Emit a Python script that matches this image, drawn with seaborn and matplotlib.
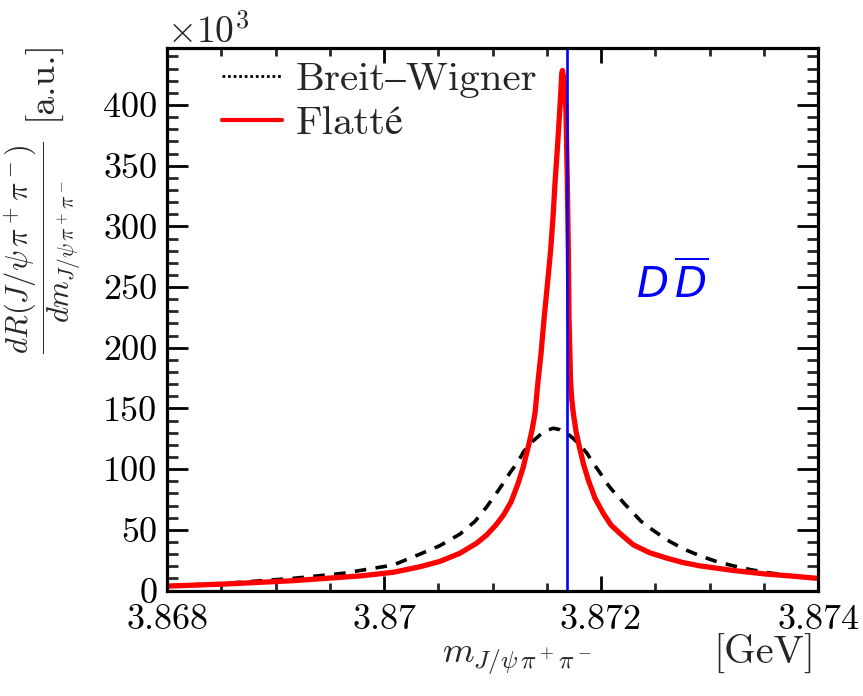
import numpy as np
import pandas as pd
import matplotlib
matplotlib.use("Agg")
import matplotlib.pyplot as plt
from matplotlib.lines import Line2D
from matplotlib.ticker import MultipleLocator
import seaborn as sns

# ---- data (y in units of 10^3, a.u.) ----
flatte_x = [3.868000, 3.868550, 3.869164, 3.869779, 3.870086, 3.870332, 3.870516,
            3.870700, 3.870854, 3.870947, 3.871032, 3.871100, 3.871171, 3.871235,
            3.871281, 3.871330, 3.871364, 3.871392, 3.871419, 3.871447, 3.871477,
            3.871507, 3.871536, 3.871558, 3.871576, 3.871597, 3.871616, 3.871629,
            3.871638, 3.871645, 3.871659, 3.871677, 3.871689, 3.871699, 3.871705,
            3.871719, 3.871730, 3.871745, 3.871770, 3.871800, 3.871839, 3.871883,
            3.871945, 3.872021, 3.872092, 3.872175, 3.872298, 3.872452, 3.872606,
            3.872756, 3.872912, 3.873219, 3.873527, 3.873742, 3.873972, 3.874000]
flatte_y = [3.6, 5.4, 8.1, 12.0, 15.0, 19.6, 24.0,
            30.7, 39.0, 45.8, 54.0, 62.0, 73.0, 88.0,
            101.0, 118.5, 132.0, 146.0, 172.0, 195.0, 225.7,
            253.0, 280.6, 308.0, 335.6, 363.0, 390.0, 410.0,
            426.0, 428.5, 420.0, 395.0, 340.0, 280.0, 226.0,
            173.0, 158.0, 146.0, 131.0, 118.5, 104.0, 91.0,
            76.0, 63.6, 54.0, 47.0, 37.6, 31.0, 26.7,
            23.0, 20.3, 16.5, 13.5, 12.0, 10.2, 10.0]

bw_x = [3.868000, 3.868550, 3.869164, 3.869625, 3.870086, 3.870332, 3.870516,
        3.870700, 3.870839, 3.870947, 3.871023, 3.871100, 3.871161, 3.871238,
        3.871284, 3.871346, 3.871438, 3.871502, 3.871560, 3.871622, 3.871684,
        3.871742, 3.871806, 3.871871, 3.871929, 3.871991, 3.872053, 3.872101,
        3.872159, 3.872221, 3.872298, 3.872369, 3.872452, 3.872606, 3.872759,
        3.872912, 3.873060, 3.873219, 3.873373, 3.873527, 3.873742, 3.873972,
        3.874000]
bw_y = [3.8, 5.9, 10.0, 14.2, 21.0, 30.0, 37.0,
        46.5, 57.0, 69.0, 78.5, 88.4, 97.0, 106.5,
        114.0, 121.0, 128.2, 132.0, 133.7, 132.5, 129.6,
        125.5, 120.0, 113.0, 104.9, 97.0, 88.4, 83.0,
        77.3, 71.0, 63.8, 57.0, 51.4, 41.8, 34.3,
        28.6, 24.0, 20.3, 17.3, 14.8, 12.3, 10.2,
        10.0]

threshold = 3.87169
x_ticks = [3.868, 3.870, 3.872, 3.874]
x_tick_labels = ["3.868", "3.87", "3.872", "3.874"]
y_ticks = [0, 50, 100, 150, 200, 250, 300, 350, 400]
y_tick_labels = ["0", "50", "100", "150", "200", "250", "300", "350", "400"]
series_labels = ["Breit\u2013Wigner", "Flatt\u00e9"]

df_f = pd.DataFrame({"m": flatte_x, "rate": flatte_y})
df_b = pd.DataFrame({"m": bw_x, "rate": bw_y})

sns.set_theme(style="ticks")
plt.rcParams["font.family"] = ["cmr10", "STIXGeneral", "DejaVu Serif"]
plt.rcParams["mathtext.fontset"] = "cm"
plt.rcParams["axes.unicode_minus"] = False
plt.rcParams["lines.solid_joinstyle"] = "round"
plt.rcParams["lines.solid_capstyle"] = "round"

fig = plt.figure(figsize=(8.63, 6.96), dpi=100)
ax = fig.add_axes([167/863, 1-590.5/696, 651/863, 542.5/696])

sns.lineplot(data=df_b, x="m", y="rate", ax=ax, color="black", lw=2.6,
             linestyle=(0, (3.2, 2.6)), estimator=None, sort=False)
sns.lineplot(data=df_f, x="m", y="rate", ax=ax, color="#ff0000", lw=3.8,
             estimator=None, sort=False)
ax.axvline(threshold, color="#0000ff", lw=1.9)

ax.set_xlim(3.868, 3.874)
ax.set_ylim(0, 447)
ax.set_xlabel("")
ax.set_ylabel("")

ax.set_xticks(x_ticks)
ax.set_xticklabels(x_tick_labels)
ax.set_yticks(y_ticks)
ax.set_yticklabels(y_tick_labels)
ax.xaxis.set_minor_locator(MultipleLocator(0.0005))
ax.yaxis.set_minor_locator(MultipleLocator(10))

for s in ax.spines.values():
    s.set_linewidth(2.3)
    s.set_color("black")
    s.set_visible(True)

ax.tick_params(axis="x", which="major", direction="in", length=11, width=2,
               top=True, bottom=True, labelsize=26, pad=10, colors="black")
ax.tick_params(axis="x", which="minor", direction="in", length=5.5, width=2,
               top=True, bottom=True)
ax.tick_params(axis="y", which="major", direction="in", length=15, width=2,
               left=True, right=True, labelsize=26, pad=7, colors="black")
ax.tick_params(axis="y", which="minor", direction="in", length=8, width=2,
               left=True, right=True)

handles = [Line2D([], [], color="black", lw=2, linestyle=(0, (1, 1))),
           Line2D([], [], color="#ff0000", lw=3)]
ax.legend(handles, series_labels, loc="upper left", bbox_to_anchor=(0.0845, 0.975),
          frameon=False, fontsize=29.5, handlelength=1.47, handletextpad=0.32,
          labelspacing=0.18, borderpad=0, borderaxespad=0)

fig.text(672/863, 1-283/696, r"$D\,\overline{D}$", color="#0000ff",
         fontsize=30, ha="center", va="center", math_fontfamily="dejavusans")

fig.text(167/863, 1-43/696, r"$\times10^{3}$", fontsize=27, ha="left", va="baseline")

fig.text(43/863, 1-248/696, r"$\dfrac{dR(J/\psi\,\pi^+\pi^-)}{dm_{J/\psi\,\pi^+\pi^-}}$",
         fontsize=22, rotation=90, ha="center", va="center")
fig.text(42/863, 1-80/696, "[a.u.]", fontsize=27, rotation=90, ha="center", va="center")

fig.text(517/863, 1-660/696, r"$m_{J/\psi\,\pi^+\pi^-}$", fontsize=26, ha="center", va="center")
fig.text(815/863, 1-654/696, "[GeV]", fontsize=29, ha="right", va="center")

fig.savefig("out.png", dpi=100, facecolor="white")
